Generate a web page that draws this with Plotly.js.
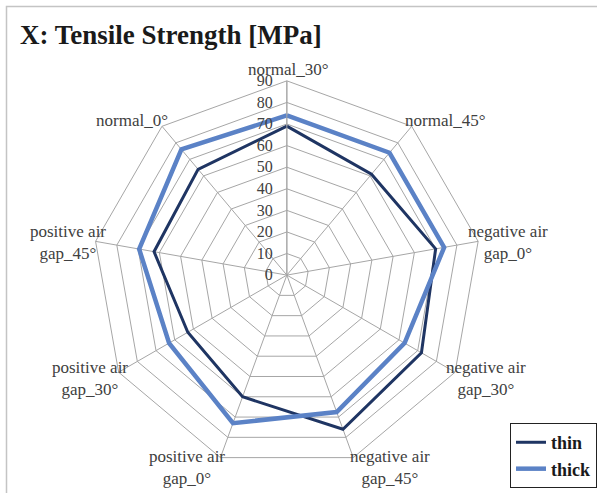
<!DOCTYPE html>
<html>
<head>
<meta charset="utf-8">
<script src="https://cdn.plot.ly/plotly-3.0.1.min.js"></script>
<style>
html,body{margin:0;padding:0;background:#fff;}
#chart{width:597px;height:493px;}
</style>
</head>
<body>
<div id="chart"></div>
<script>
const categories = ["normal_30°", "normal_45°", "negative air<br>gap_0°", "negative air<br>gap_30°", "negative air<br>gap_45°", "positive air<br>gap_0°", "positive air<br>gap_30°", "positive air<br>gap_45°", "normal_0°"];
const thinValues = [69, 61, 70, 72, 76, 60, 53, 62.5, 64];
const thickValues = [74, 74, 74, 63, 67.5, 73, 63, 69.5, 76];
const seriesNames = ["thin", "thick"];
const radialTicks = [0, 10, 20, 30, 40, 50, 60, 70, 80, 90];

const close = a => a.concat([a[0]]);
const W = 597, H = 493;
const serif = "Liberation Serif, Times New Roman, serif";

const traces = [
  {
    type: "scatterpolar",
    r: close(thinValues),
    theta: close(categories),
    mode: "lines",
    name: seriesNames[0],
    line: {color: "#1f3563", width: 3}
  },
  {
    type: "scatterpolar",
    r: close(thickValues),
    theta: close(categories),
    mode: "lines",
    name: seriesNames[1],
    line: {color: "#5b82c6", width: 4.5}
  }
];

// label placement (pixel centres of the category labels, Excel-style)
const labelPos = [[288, 70], [445, 121], [508, 242], [486, 378], [390, 467], [187, 467], [90, 378], [68, 242], [132, 121]];
const annotations = categories.map((c, i) => ({
  text: c,
  xref: "paper", yref: "paper",
  x: labelPos[i][0] / W, y: 1 - labelPos[i][1] / H,
  xanchor: "center", yanchor: "middle",
  showarrow: false,
  font: {family: serif, size: 17, color: "#404040"}
}));

const layout = {
  width: W,
  height: H,
  margin: {l: 0, r: 0, t: 0, b: 0},
  paper_bgcolor: "#ffffff",
  plot_bgcolor: "#ffffff",
  font: {family: serif, size: 16, color: "#404040"},
  title: {
    text: "<b>X: Tensile Strength [MPa]</b>",
    font: {family: serif, size: 27, color: "#1a1a1a"},
    x: 20 / W, xanchor: "left", xref: "paper",
    y: 1 - 35 / H, yanchor: "middle", yref: "paper"
  },
  showlegend: true,
  legend: {
    x: 1.0, xanchor: "right",
    y: 0.01, yanchor: "bottom",
    bordercolor: "#222222",
    borderwidth: 1,
    bgcolor: "#ffffff",
    font: {family: serif, size: 18, color: "#1a1a1a", weight: "bold"},
    itemwidth: 30,
    tracegroupgap: 0
  },
  annotations: annotations,
  polar: {
    domain: {x: [0.155, 0.806], y: [0.048, 0.836]},
    bgcolor: "#ffffff",
    gridshape: "linear",
    radialaxis: {
      range: [0, 90],
      tickvals: radialTicks,
      ticktext: radialTicks.map(String),
      angle: 90,
      side: "counterclockwise",
      showline: true,
      linecolor: "#a6a6a6",
      linewidth: 1,
      gridcolor: "#a6a6a6",
      gridwidth: 1,
      ticks: "outside",
      ticklen: 8,
      tickcolor: "rgba(0,0,0,0)",
      tickangle: 90,
      tickfont: {family: serif, size: 16, color: "#404040"}
    },
    angularaxis: {
      rotation: 90,
      direction: "clockwise",
      showline: true,
      linecolor: "#a6a6a6",
      linewidth: 1,
      gridcolor: "#a6a6a6",
      gridwidth: 1,
      ticks: "",
      showticklabels: false
    }
  },
  shapes: [
    {type: "rect", xref: "paper", yref: "paper", x0: 6.5 / W, x1: 1.02, y0: -0.02, y1: 1 - 6.5 / H,
     line: {color: "#c4c4c4", width: 1.5}, fillcolor: "rgba(0,0,0,0)", layer: "below"}
  ]
};

Plotly.newPlot("chart", traces, layout, {displayModeBar: false, staticPlot: true});
</script>
</body>
</html>
